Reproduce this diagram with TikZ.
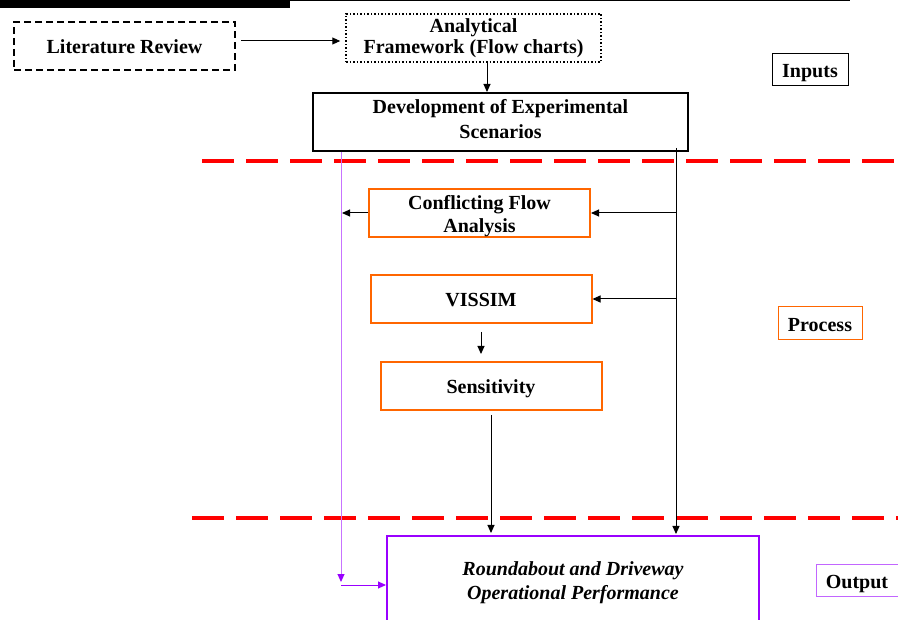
\documentclass[tikz,border=0pt]{standalone}
\usepackage{fontspec}
\setmainfont{Liberation Serif}
\usetikzlibrary{arrows.meta}

\definecolor{procorange}{RGB}{255,102,0}
\definecolor{outviolet}{RGB}{153,0,255}
\definecolor{bandred}{RGB}{255,0,0}

\begin{document}
\begin{tikzpicture}[x=1pt, y=-1pt, >={Triangle[length=8pt,width=7pt]},
	every node/.style={font=\fontsize{20}{24}\selectfont\bfseries, align=center, inner sep=0pt},
	oneline/.style={text height=20pt, text depth=4pt},
	inbox/.style={draw, line width=2pt, minimum width=375pt, minimum height=58pt},
	procbox/.style={draw=procorange, line width=2pt, minimum width=221pt, minimum height=48pt},
	tag/.style={draw, line width=1pt, minimum height=32pt, oneline},
	band/.style={bandred, line width=4.5pt, dash pattern=on 32pt off 12pt},
	flow/.style={->, line width=1pt}]
				\useasboundingbox (0,0) rectangle (898,620);
				
				% 顶部横线
				\fill (0,0) rectangle (290,8);
				\draw[line width=1pt] (290,1) -- (850,1);
				
				% 输入
				\node[draw, oneline, line width=2pt, dash pattern=on 7pt off 4pt, minimum width=221pt, minimum height=48pt] (litrev) at (124.5,46) {Literature Review};
				\node[draw, line width=1.5pt, dotted, minimum width=255pt, minimum height=48pt, font=\fontsize{20}{20.5}\selectfont\bfseries, text height=34.6pt, text depth=4pt] (framework) at (473.5,38) {Analytical\\Framework (Flow charts)};
				\node[inbox, font=\fontsize{20}{25}\selectfont\bfseries, text height=36.6pt, text depth=4pt] (scenarios) at (500.5,122) {Development of Experimental\\Scenarios};
				\draw[flow, shorten <=5pt, shorten >=5pt] ([yshift=5pt]litrev.east) -- ([yshift=5pt]litrev.east -| framework.west);
				\coordinate (fx) at (487,0);
				\draw[flow] (fx |- framework.south) -- (fx |- scenarios.north);
				
				% 分区虚线
				\draw[band] (202,161) -- (898,161);
				\draw[band] (192,518) -- (898,518);
				
				% 过程
				\node[procbox, font=\fontsize{20}{23}\selectfont\bfseries, text height=44pt, text depth=4pt] (conflict) at (479.5,213) {Conflicting Flow\\Analysis};
				\node[procbox, oneline] (vissim) at (481,299) {VISSIM};
				\node[procbox, oneline] (sensitivity) at (491,386) {Sensitivity};
				
				% 输出
				\node[draw=outviolet, line width=2pt, minimum width=372pt, minimum height=100pt, font=\fontsize{20}{24}\selectfont\bfseries\itshape, text height=30pt, text depth=4pt] (performance) at (573,586) {Roundabout and Driveway\\Operational Performance};
				
				% 右侧标签
				\node[tag, minimum width=76pt] (inputs) at (810,70) {Inputs};
				\node[tag, draw=procorange, minimum width=84pt, minimum height=33pt] (process) at (820,323.5) {Process};
				\node[tag, draw=outviolet!60, minimum width=82pt] (output) at (857,580.5) {Output};
				
				% 右侧主线
				\coordinate (bustop) at (676,148);
				\draw[flow, shorten >=1pt] (bustop) -- (bustop |- performance.north);
				\draw[flow] (bustop |- conflict.east) -- (conflict.east);
				\draw[flow] (bustop |- vissim.east) -- (vissim.east);
				
				% 左侧紫线
				\coordinate (viox) at (341,0);
				\coordinate (viobot) at (341,585);
				\draw[-{Triangle[length=8pt,width=7pt,color=outviolet]}, outviolet!55, line width=1pt] (viox |- scenarios.south) -- ([yshift=3pt]viobot);
				\draw[flow, outviolet] (viobot) -- (viobot -| performance.west);
				\draw[flow, shorten >=1pt] (conflict.west) -- (conflict.west -| viox);
				
				% 中间箭头
				\draw[flow, shorten <=8pt, shorten >=7pt] (vissim.south) -- (vissim.south |- sensitivity.north);
				\draw[flow, shorten <=4pt, shorten >=2pt] (sensitivity.south) -- (sensitivity.south |- performance.north);
\end{tikzpicture}
\end{document}
